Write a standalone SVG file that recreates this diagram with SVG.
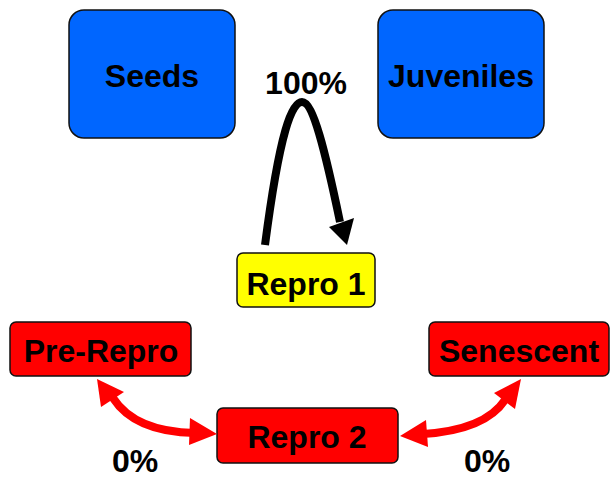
<svg xmlns="http://www.w3.org/2000/svg" width="613" height="477" viewBox="0 0 613 477">
<style>
.box{stroke:#111;stroke-width:1.5}
.blue{fill:#0066ff}
.yellow{fill:#ffff00}
.red{fill:#ff0000}
text{font-family:"Liberation Sans",Arial,sans-serif;font-weight:bold;font-size:32px;fill:#000;text-anchor:middle}
.blk{fill:none;stroke:#000;stroke-width:8}
.rl{fill:none;stroke:#ff0000;stroke-width:8}
</style>
<rect width="613" height="477" fill="#fff"/>
<g id="seeds"><rect class="box blue" x="69" y="10" width="166" height="128" rx="15"/><text x="152" y="87">Seeds</text></g>
<g id="juveniles"><rect class="box blue" x="378" y="10" width="166" height="128" rx="15"/><text x="461" y="87">Juveniles</text></g>
<g id="repro1"><rect class="box yellow" x="237" y="253" width="138" height="54" rx="6"/><text x="306" y="295">Repro 1</text></g>
<g id="prerepro"><rect class="box red" x="10" y="322" width="181" height="54" rx="6"/><text x="101" y="362">Pre-Repro</text></g>
<g id="senescent"><rect class="box red" x="429" y="322" width="180" height="54" rx="6"/><text x="519" y="362">Senescent</text></g>
<g id="repro2"><rect class="box red" x="217" y="408" width="181" height="55" rx="6"/><text x="307" y="448">Repro 2</text></g>
<g id="connectors">
<path class="blk" d="M265,245 C280,130 292,102 302,102 C313,102 325,150 340,222"/>
<polygon points="347,245 329,227 354,218" fill="#000"/>
<path class="rl" d="M113,398 Q135,432 195,433"/>
<polygon points="97,379 101,407 124,392" fill="#ff0000"/>
<polygon points="217,434 190,418 189,445" fill="#ff0000"/>
<path class="rl" d="M505,400 Q485,430 423,434"/>
<polygon points="400,436 426,420 428,447" fill="#ff0000"/>
<polygon points="521,379 494,393 515,409" fill="#ff0000"/>
<text x="306" y="94">100%</text>
<text x="135" y="472">0%</text>
<text x="487" y="472">0%</text>
</g>
</svg>
